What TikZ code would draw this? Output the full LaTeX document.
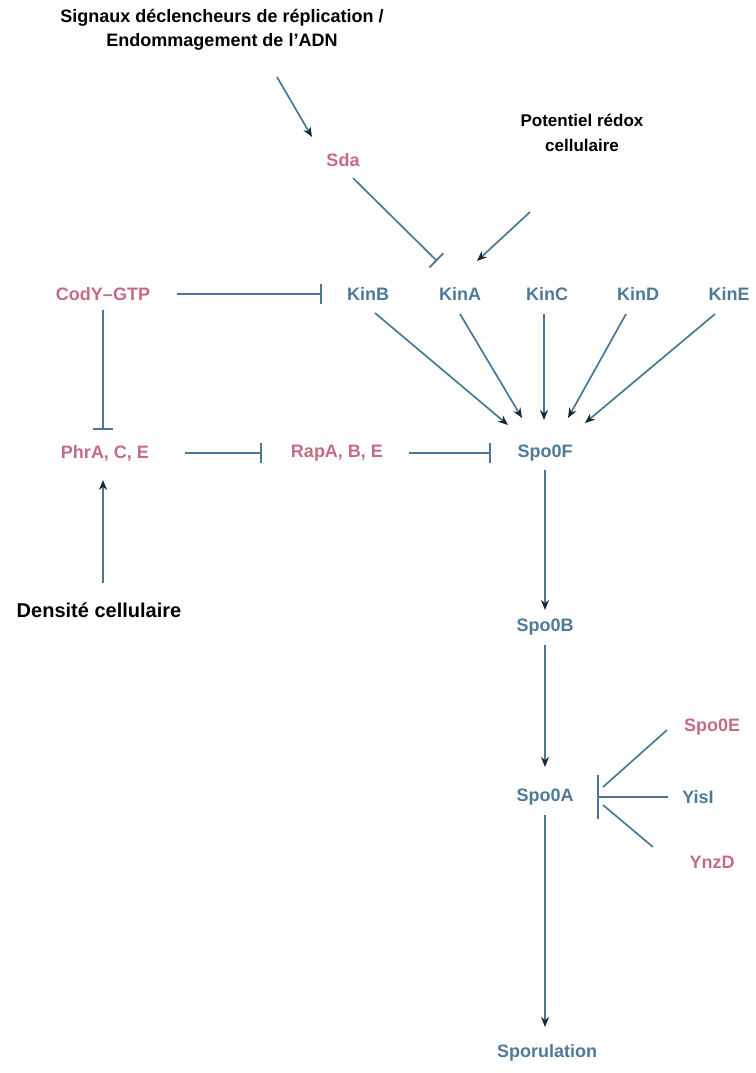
\documentclass[tikz,border=0pt]{standalone}
\usepackage{fontspec}
\setmainfont{Liberation Sans}
\usetikzlibrary{arrows.meta,calc}
\definecolor{lineBlue}{RGB}{72,120,150}
\definecolor{protBlue}{RGB}{78,122,152}
\definecolor{protRed}{RGB}{198,108,128}
\definecolor{tipDark}{RGB}{25,38,52}
\tikzstyle{headStyle}=[font=\bfseries\fontsize{18}{24}\selectfont, align=center, inner sep=2pt]
\tikzstyle{protStyle}=[font=\bfseries\fontsize{18}{22}\selectfont, inner sep=3pt]

\begin{document}
\begin{tikzpicture}[x=1pt, y=-1pt]
\tikzstyle{blueProt}=[protStyle, text=protBlue]
\tikzstyle{redProt}=[protStyle, text=protRed]
\tikzstyle{plainEdge}=[draw=lineBlue, line width=1.7pt]
\tikzstyle{actEdge}=[plainEdge, -{Stealth[length=10pt, width=8pt, color=tipDark]}]
\tikzstyle{inhEdge}=[plainEdge, -{Bar[width=20pt, line width=1.8pt]}]
\useasboundingbox (0,0) rectangle (755,1073);
% signals
\node[headStyle] (sig) at (222,30) {Signaux déclencheurs de réplication /\\Endommagement de l’ADN};
\node[headStyle, font=\bfseries\fontsize{17}{25}\selectfont] (redox) at (582,133) {Potentiel rédox\\cellulaire};
\node[headStyle, font=\bfseries\fontsize{20}{24}\selectfont] (dens) at (99,610) {Densité cellulaire};
\coordinate (sigEnd) at (277,77);
\coordinate (redEnd) at (530,212);
\coordinate (densEnd) at (103,583);
% proteins
\node[redProt] (sda) at (343,160) {Sda};
\node[redProt] (cody) at (103,294) {CodY–GTP};
\node[blueProt] (kinB) at (368,294) {KinB};
\node[blueProt] (kinA) at (460,294) {KinA};
\node[blueProt] (kinC) at (547,294) {KinC};
\node[blueProt] (kinD) at (638,294) {KinD};
\node[blueProt] (kinE) at (729,294) {KinE};
\node[redProt] (phr) at (105,453) {PhrA, C, E};
\node[redProt] (rap) at (337,453) {RapA, B, E};
\node[blueProt] (spoF) at (545,453) {Spo0F};
\node[blueProt] (spoB) at (545,627) {Spo0B};
\node[blueProt] (spoA) at (545,797) {Spo0A};
\node[redProt] (spoE) at (712,727) {Spo0E};
\node[blueProt] (yisI) at (698,797) {YisI};
\node[redProt] (ynzD) at (712,862) {YnzD};
\node[blueProt] (spor) at (547,1053) {Sporulation};
% connectors
\draw[actEdge] (sigEnd) -- ($(sda)+(-31,-23)$);
\draw[inhEdge] ($(sda)+(10,18)$) -- ($(kinA)+(-23,-33)$);
\draw[actEdge] (redEnd) -- ($(kinA)+(17,-33)$);
\draw[inhEdge] ($(cody)+(74,0)$) -- ($(kinB)+(-46,0)$);
\draw[inhEdge] ($(cody)+(0,16)$) -- ($(phr)+(-2,-23)$);
\draw[actEdge] (densEnd) -- ($(phr)+(-2,27)$);
\draw[inhEdge] ($(phr)+(80,0)$) -- ($(rap)+(-75,0)$);
\draw[inhEdge] ($(rap)+(72,0)$) -- ($(spoF)+(-54,0)$);
\draw[actEdge] ($(kinB)+(7,19)$) -- ($(spoF)+(-37,-28)$);
\draw[actEdge] ($(kinA)+(0,20)$) -- ($(spoF)+(-23,-35)$);
\draw[actEdge] ($(kinC)+(-3,20)$) -- ($(spoF)+(-1,-33)$);
\draw[actEdge] ($(kinD)+(-12,20)$) -- ($(spoF)+(23,-35)$);
\draw[actEdge] ($(kinE)+(-14,20)$) -- ($(spoF)+(40,-30)$);
\draw[actEdge] ($(spoF)+(0,17)$) -- ($(spoB)+(0,-17)$);
\draw[actEdge] ($(spoB)+(0,18)$) -- ($(spoA)+(0,-30)$);
\draw[actEdge] ($(spoA)+(0,18)$) -- ($(spor)+(-2,-26)$);
\draw[plainEdge, -{Bar[width=44pt, line width=1.8pt]}] ($(yisI)+(-30,0)$) -- ($(spoA)+(52,0)$);
\draw[plainEdge] ($(spoE)+(-45,3)$) -- ($(spoA)+(58,-10)$);
\draw[plainEdge] ($(spoA)+(58,8)$) -- ($(ynzD)+(-59,-15)$);
\end{tikzpicture}
\end{document}
